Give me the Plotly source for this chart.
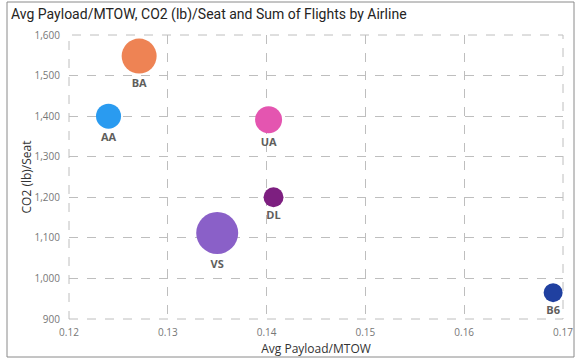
import plotly.graph_objects as go

airlines = ["BA", "AA", "UA", "DL", "VS", "B6"]
payload_mtow = [0.1271, 0.1240, 0.1402, 0.1407, 0.1350, 0.1690]
co2_per_seat = [1548, 1400, 1391, 1200, 1112, 965]
sum_flights = [1225, 625, 729, 400, 1764, 361]
colors = ["#EE8354", "#2A9BF0", "#E455B0", "#7D1F80", "#8A60C8", "#2040A0"]

x_ticks = [0.12, 0.13, 0.14, 0.15, 0.16, 0.17]
y_ticks = [900, 1000, 1100, 1200, 1300, 1400, 1500, 1600]

fig = go.Figure()
fig.add_trace(go.Scatter(
    x=payload_mtow, y=co2_per_seat, mode="markers+text",
    text=airlines, textposition="bottom center",
    textfont=dict(family="Open Sans", size=11, color="#605E5C", weight="bold"),
    marker=dict(size=sum_flights, sizemode="area", sizeref=2,
                color=colors, opacity=1, line=dict(width=0)),
    cliponaxis=False, hoverinfo="x+y+text", showlegend=False,
))

grid = dict(showgrid=True, gridcolor="#BEBEBE", griddash="dash", gridwidth=1,
            zeroline=False, showline=False, ticks="", automargin=False,
            tickfont=dict(family="Open Sans", size=10, color="#777777"))

fig.update_xaxes(range=[0.12, 0.17], tickvals=x_ticks,
                 ticktext=[f"{v:.2f}" for v in x_ticks],
                 ticklabelstandoff=6,
                 title=dict(text="Avg Payload/MTOW", standoff=6,
                            font=dict(family="Open Sans", size=12, color="#333333")),
                 **grid)
fig.update_yaxes(range=[900, 1600], tickvals=y_ticks,
                 ticktext=[f"{v:,}" for v in y_ticks],
                 ticklabelstandoff=8,
                 title=dict(text="CO2 (lb)/Seat", standoff=0,
                            font=dict(family="Open Sans", size=12, color="#333333")),
                 **grid)

fig.update_layout(
    width=580, height=362,
    margin=dict(l=69, r=17, t=35, b=43, autoexpand=False),
    paper_bgcolor="white", plot_bgcolor="white",
    title=dict(text="Avg Payload/MTOW, CO2 (lb)/Seat and Sum of Flights by Airline",
               x=0.019, xanchor="left", y=0.962, yanchor="middle",
               font=dict(family="Roboto", size=14, color="#252423")),
    shapes=[
        dict(type="rect", xref="paper", yref="paper",
             x0=-62/494, x1=1 + 11/494, y0=-38/284, y1=1 + 33/284,
             line=dict(color="#8A8A8A", width=1), fillcolor="rgba(0,0,0,0)", layer="below"),
        dict(type="rect", xref="paper", yref="paper", x0=0, x1=1, y0=0, y1=1,
             line=dict(color="#BEBEBE", width=1, dash="dash"),
             fillcolor="rgba(0,0,0,0)", layer="below"),
    ],
)

fig.write_html("out.html", config={"displayModeBar": False},
               post_script="document.body.style.margin='0';document.body.style.overflow='hidden';")
